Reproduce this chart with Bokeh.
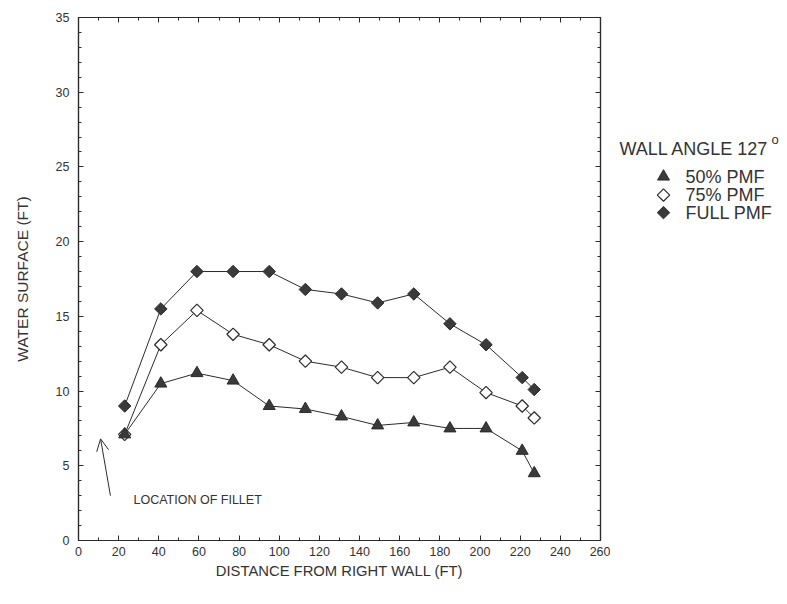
import numpy as np
from bokeh.plotting import figure
from bokeh.layouts import row
from bokeh.models import (Range1d, LinearAxis, SingleIntervalTicker, Label, Arrow,
                          OpenHead, CustomJSTickFormatter)
from bokeh.core.properties import value
from bokeh.embed import file_html
from bokeh.resources import INLINE

# ---- data ----
distance = [23, 41, 59, 77, 95, 113, 131, 149, 167, 185, 203, 221, 227]
pmf_50 = [7.1, 10.5, 11.2, 10.7, 9.0, 8.8, 8.3, 7.7, 7.9, 7.5, 7.5, 6.0, 4.5]
pmf_75 = [7.1, 13.1, 15.4, 13.8, 13.1, 12.0, 11.6, 10.9, 10.9, 11.6, 9.9, 9.0, 8.2]
pmf_full = [9.0, 15.5, 18.0, 18.0, 18.0, 16.8, 16.5, 15.9, 16.5, 14.5, 13.1, 10.9, 10.1]

series_labels = ["50% PMF", "75% PMF", "FULL PMF"]
legend_title = "WALL ANGLE 127"
x_title = "DISTANCE FROM RIGHT WALL (FT)"
y_title = "WATER SURFACE (FT)"
note_text = "LOCATION OF FILLET"

FONT = "Liberation Sans"
INK = "#2b2b2b"
TXT = "#333333"
DARK = "#3a3a3a"
H = 595

p = figure(width=610, height=H, output_backend="svg", toolbar_location=None,
           x_range=Range1d(0, 260), y_range=Range1d(0, 35),
           min_border_left=78, min_border_right=10, min_border_top=17,
           min_border_bottom=H - 540)
p.grid.visible = False
p.outline_line_color = INK
p.outline_line_width = 1.2


def style_axis(ax, labels=True):
    ax.major_tick_in = 5
    ax.major_tick_out = 0
    ax.minor_tick_in = 3
    ax.minor_tick_out = 0
    ax.axis_line_color = INK
    ax.axis_line_width = 1.2
    ax.major_tick_line_color = INK
    ax.minor_tick_line_color = INK
    ax.major_label_text_font = FONT
    ax.major_label_text_color = TXT
    ax.major_label_text_font_size = "12.5px"
    ax.axis_label_text_font = FONT
    ax.axis_label_text_font_style = "normal"
    ax.axis_label_text_color = TXT
    if not labels:
        ax.formatter = CustomJSTickFormatter(code="return ''")
        ax.major_label_standoff = 0


xb = p.xaxis[0]
xb.ticker = SingleIntervalTicker(interval=20, num_minor_ticks=2)
style_axis(xb)
xb.axis_label = x_title
xb.axis_label_text_font_size = "14.8px"
xb.major_label_standoff = 6
xb.axis_label_standoff = 4

yl = p.yaxis[0]
yl.ticker = SingleIntervalTicker(interval=5, num_minor_ticks=5)
style_axis(yl)
yl.axis_label = y_title
yl.axis_label_text_font_size = "15.5px"
yl.major_label_standoff = 9
yl.axis_label_standoff = 22

xt = LinearAxis(ticker=SingleIntervalTicker(interval=20, num_minor_ticks=2))
style_axis(xt, labels=False)
p.add_layout(xt, "above")

yr = LinearAxis(ticker=SingleIntervalTicker(interval=5, num_minor_ticks=5))
style_axis(yr, labels=False)
p.add_layout(yr, "right")

# ---- series ----
for ys in (pmf_full, pmf_75, pmf_50):
    p.line(distance, ys, line_color=INK, line_width=1)

p.scatter(distance, pmf_full, marker="square", angle=np.pi / 4, size=8.8,
          fill_color=DARK, line_color=INK, line_width=1)
p.scatter(distance, pmf_75, marker="square", angle=np.pi / 4, size=8.8,
          fill_color="white", line_color=INK, line_width=1.2)
p.scatter(distance, pmf_50, marker="triangle", size=12,
          fill_color=DARK, line_color=INK, line_width=1)

# ---- annotation ----
p.add_layout(Label(x=27.4, y=2.7, text=note_text, text_font=FONT,
                   text_font_size="12.5px", text_color=TXT,
                   text_baseline="middle", text_align="left"))
p.add_layout(Arrow(x_start=15.9, y_start=3.0, x_end=11.0, y_end=6.8,
                   line_color=INK, line_width=1,
                   end=OpenHead(size=12, line_color=INK, line_width=1)))

# ---- legend panel (pixel-like coordinates, y downward) ----
LW = 177
lg = figure(width=LW, height=H, output_backend="svg", toolbar_location=None,
            x_range=Range1d(0, LW), y_range=Range1d(H, 0),
            x_axis_location=None, y_axis_location=None, min_border=0)
lg.grid.visible = False
lg.outline_line_color = None

sym_x = 53
txt_x = 75
row_y = [181, 202, 222]

lg.scatter([sym_x], [row_y[0]], marker="triangle", size=12,
           fill_color=DARK, line_color=INK, line_width=1)
lg.scatter([sym_x], [row_y[1]], marker="square", angle=np.pi / 4, size=8.8,
           fill_color="white", line_color=INK, line_width=1.2)
lg.scatter([sym_x], [row_y[2]], marker="square", angle=np.pi / 4, size=8.8,
           fill_color=DARK, line_color=INK, line_width=1)
lg.text(x=[txt_x] * 3, y=row_y, text=series_labels, text_font=value(FONT),
        text_font_size="18px", text_color=TXT, text_baseline="middle",
        text_align="left")
lg.text(x=[9], y=[150], text=[legend_title], text_font=value(FONT),
        text_font_size="18px", text_color=TXT, text_baseline="middle",
        text_align="left")
lg.text(x=[161], y=[139], text=["o"], text_font=value(FONT),
        text_font_size="13px", text_color=TXT, text_baseline="middle",
        text_align="left")

layout = row(p, lg, spacing=0)
open("out.html", "w").write(file_html(layout, INLINE))
